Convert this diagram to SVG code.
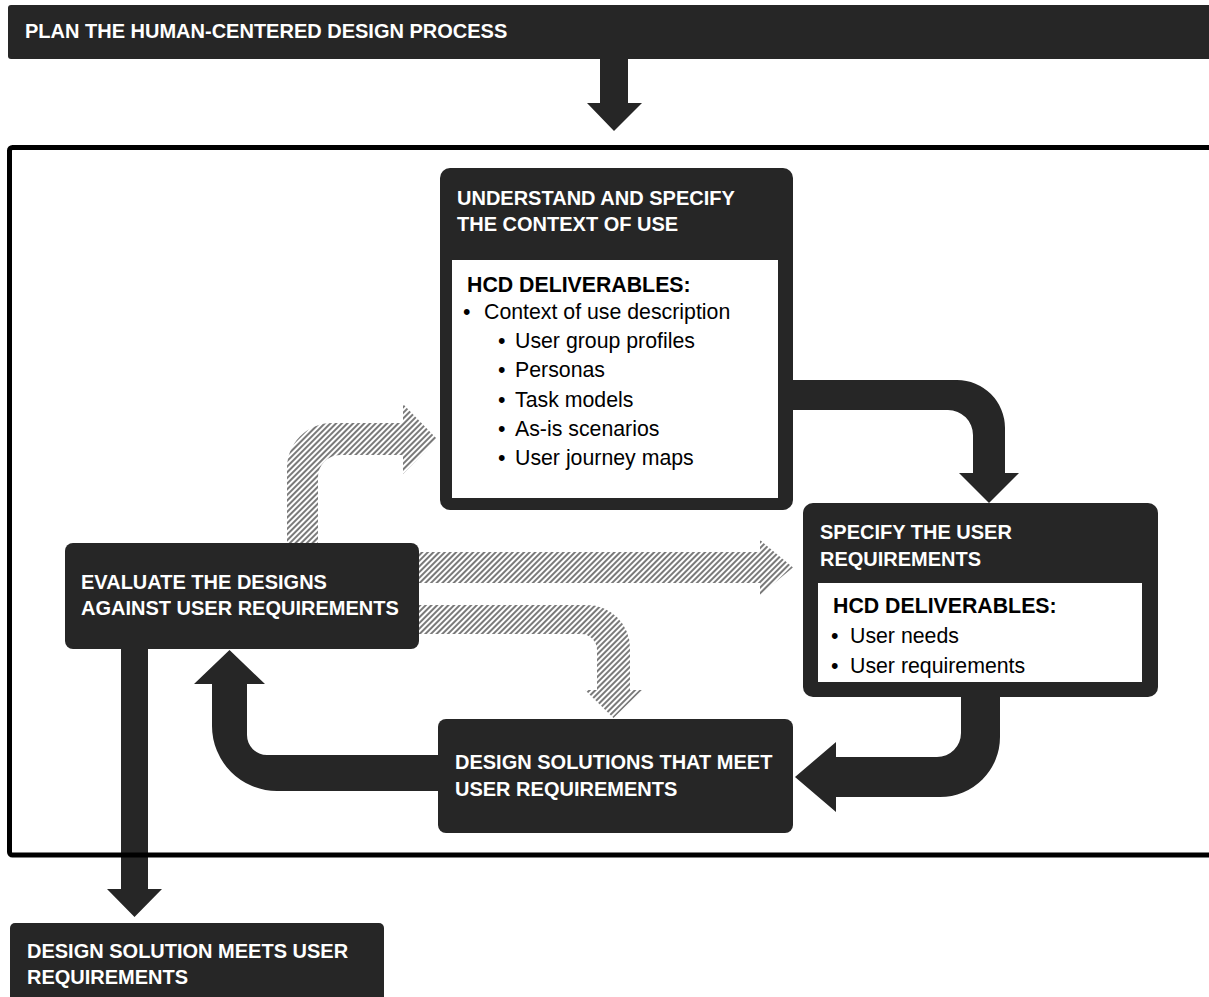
<svg xmlns="http://www.w3.org/2000/svg" width="1209" height="997" viewBox="0 0 1209 997">
<style>
.box{fill:#262626}
.inner{fill:#ffffff}
.hd{font-family:"Liberation Sans",Arial,sans-serif;font-weight:bold;font-size:20px;fill:#ffffff}
.sub{font-family:"Liberation Sans",Arial,sans-serif;font-weight:bold;font-size:21.3px;fill:#000000}
.li{font-family:"Liberation Sans",Arial,sans-serif;font-size:21.3px;fill:#000000}
.solid{fill:#262626}
.hatch{fill:url(#stripes)}
</style>
<defs>
<pattern id="stripes" width="4" height="4" patternUnits="userSpaceOnUse" patternTransform="rotate(45)">
<rect width="4" height="4" fill="#ffffff"/>
<rect width="2" height="4" fill="#7a7a7a"/>
</pattern>
</defs>
<rect width="1209" height="997" fill="#ffffff"/>

<g id="connectors">
<!-- plan -> frame -->
<path class="solid" d="M600,55 L628,55 L628,103 L642,103 L614,131 L587,103 L600,103 Z"/>
<!-- understand -> specify -->
<path class="solid" d="M785,380 L957,380 A48,48 0 0 1 1005,428 L1005,473 L1019,473 L989,503 L959,473 L973,473 L973,435 A25,25 0 0 0 948,410 L785,410 Z"/>
<!-- specify -> design -->
<path class="solid" d="M961,690 L1000,690 L1000,737 A60,60 0 0 1 940,797 L836,797 L836,812 L795,777 L836,742 L836,757 L937,757 A24,24 0 0 0 961,733 Z"/>
<!-- design -> evaluate -->
<path class="solid" d="M445,755 L445,791 L277,791 A65,65 0 0 1 212,726 L212,684 L194,684 L229.5,650 L265,684 L247,684 L247,735 A20,20 0 0 0 267,755 Z"/>
<!-- evaluate -> result -->
<path class="solid" d="M121,645 L148,645 L148,889 L162,889 L134.5,917 L107,889 L121,889 Z"/>
<!-- hatched: evaluate -> understand -->
<path class="hatch" d="M287,548 L287,468 A45,45 0 0 1 332,423 L403,423 L403,404 L437,439 L403,474 L403,455 L340,455 A22,22 0 0 0 318,477 L318,548 Z"/>
<!-- hatched: evaluate -> specify -->
<path class="hatch" d="M415,552 L760,552 L760,540 L793,567.5 L760,595 L760,583 L415,583 Z"/>
<!-- hatched: evaluate -> design -->
<path class="hatch" d="M415,605 L587,605 A43,43 0 0 1 630,648 L630,690 L642,690 L613.5,718 L585,690 L597,690 L597,650 A16,16 0 0 0 581,634 L415,634 Z"/>
</g>

<g id="plan">
<rect class="box" x="8" y="5" width="1215" height="54" rx="3"/>
<text class="hd" x="25" y="38">PLAN THE HUMAN-CENTERED DESIGN PROCESS</text>
</g>

<g id="understand">
<rect class="box" x="440" y="168" width="353" height="342" rx="10"/>
<text class="hd" x="457" y="205">UNDERSTAND AND SPECIFY</text>
<text class="hd" x="457" y="231">THE CONTEXT OF USE</text>
<rect class="inner" x="452" y="260" width="326" height="238"/>
<text class="sub" x="467" y="292">HCD DELIVERABLES:</text>
<text class="li"><tspan x="463" y="319">•</tspan><tspan x="484" y="319">Context of use description</tspan></text>
<text class="li"><tspan x="498" y="348">•</tspan><tspan x="515" y="348">User group profiles</tspan></text>
<text class="li"><tspan x="498" y="377">•</tspan><tspan x="515" y="377">Personas</tspan></text>
<text class="li"><tspan x="498" y="407">•</tspan><tspan x="515" y="407">Task models</tspan></text>
<text class="li"><tspan x="498" y="436">•</tspan><tspan x="515" y="436">As-is scenarios</tspan></text>
<text class="li"><tspan x="498" y="465">•</tspan><tspan x="515" y="465">User journey maps</tspan></text>
</g>

<g id="specify">
<rect class="box" x="803" y="503" width="355" height="194" rx="10"/>
<text class="hd" x="820" y="539">SPECIFY THE USER</text>
<text class="hd" x="820" y="566">REQUIREMENTS</text>
<rect class="inner" x="818" y="583" width="324" height="99"/>
<text class="sub" x="833" y="613">HCD DELIVERABLES:</text>
<text class="li"><tspan x="831" y="643">•</tspan><tspan x="850" y="643">User needs</tspan></text>
<text class="li"><tspan x="831" y="673">•</tspan><tspan x="850" y="673">User requirements</tspan></text>
</g>

<g id="evaluate">
<rect class="box" x="65" y="543" width="354" height="106" rx="8"/>
<text class="hd" x="81" y="589">EVALUATE THE DESIGNS</text>
<text class="hd" x="81" y="615">AGAINST USER REQUIREMENTS</text>
</g>

<g id="design">
<rect class="box" x="438" y="719" width="355" height="114" rx="8"/>
<text class="hd" x="455" y="769">DESIGN SOLUTIONS THAT MEET</text>
<text class="hd" x="455" y="796">USER REQUIREMENTS</text>
</g>

<g id="result">
<rect class="box" x="10" y="923" width="374" height="90" rx="5"/>
<text class="hd" x="27" y="958">DESIGN SOLUTION MEETS USER</text>
<text class="hd" x="27" y="984">REQUIREMENTS</text>
</g>

<g id="frame">
<rect x="9.5" y="147.5" width="1230" height="707.5" rx="3" fill="none" stroke="#000000" stroke-width="5"/>
</g>
</svg>
